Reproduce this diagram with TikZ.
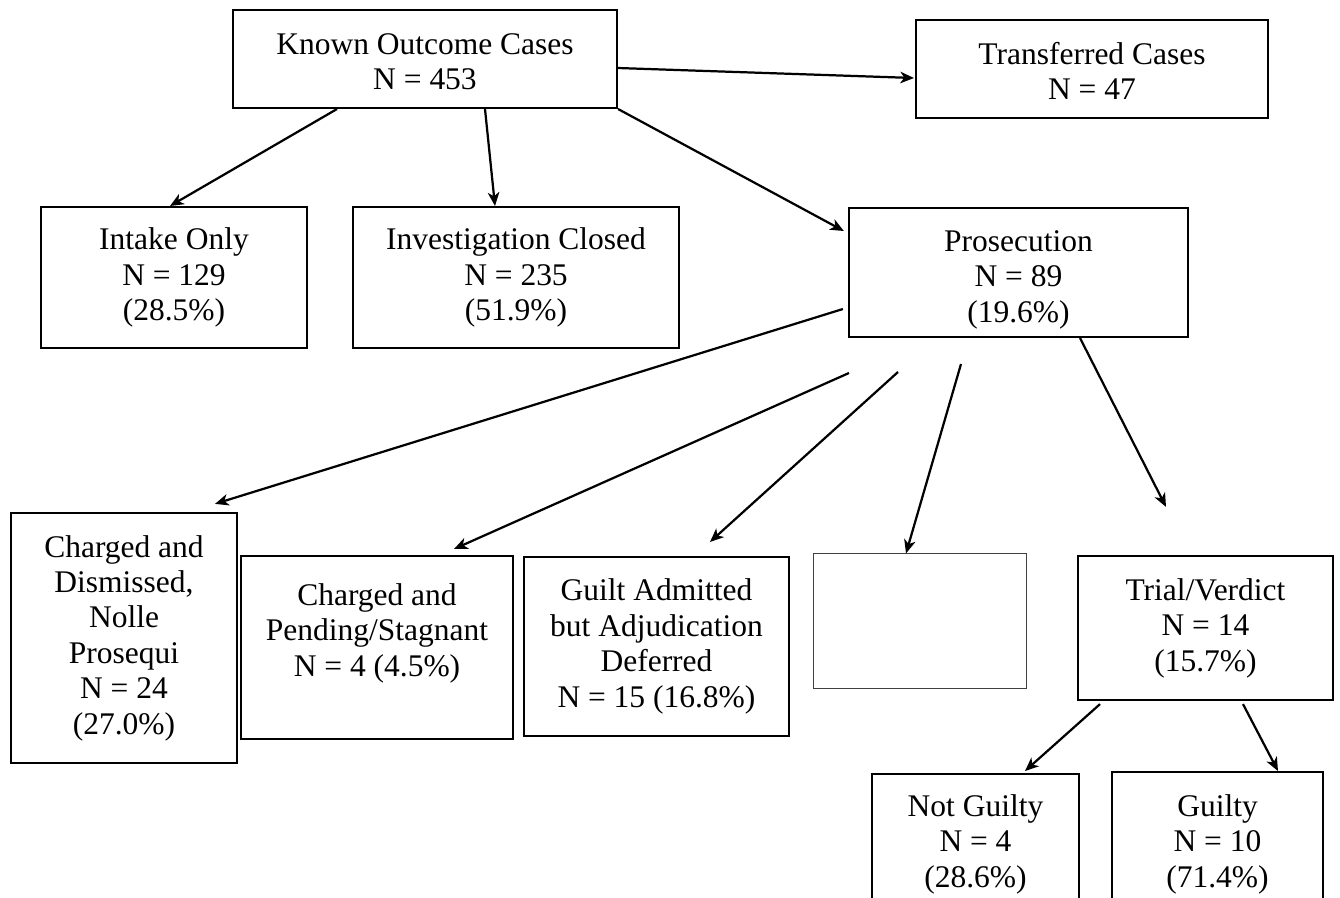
\documentclass[tikz,border=0pt]{standalone}
\usepackage{fontspec}
\setmainfont{Liberation Serif}
\usetikzlibrary{arrows.meta}
\usetikzlibrary{calc}

\begin{document}
\begin{tikzpicture}[x=0.381pt, y=-0.381pt,
	box/.style={draw=black, line width=0.8pt, inner sep=0pt, align=center, font=\fontsize{12}{13.5}\selectfont},
	blankbox/.style={draw=black!75, line width=0.4pt, inner sep=0pt},
	link/.style={line width=0.85pt, -{Stealth[length=5.2pt, width=4.4pt, inset=1.5pt]}}]

\useasboundingbox (0,0) rectangle (1340,897);
\clip (0,0) rectangle (1340,897);
\fill[white] (0,0) rectangle (1340,897);

\node[box, minimum width=146.3pt, minimum height=37.3pt] (known) at (425,59) {\rule{0pt}{10pt}Known Outcome Cases\\N = 453};
\node[box, minimum width=134.1pt, minimum height=37.3pt] (transf) at (1092,69) {\rule{0pt}{10pt}Transferred Cases\\N = 47};

\node[box, minimum width=101.3pt, minimum height=53.7pt] (intake) at (174,277.5) {Intake Only\\N = 129\\(28.5\%)};
\node[box, minimum width=124.2pt, minimum height=53.7pt] (invest) at (516,277.5) {Investigation Closed\\N = 235\\(51.9\%)};
\node[box, minimum width=129.2pt, minimum height=49.1pt] (pros) at (1018.5,272.5) {\rule{0pt}{13.3pt}Prosecution\\N = 89\\(19.6\%)};

\node[box, minimum width=86.1pt, minimum height=95.3pt] (dismiss) at (124,638) {Charged and\\Dismissed,\\Nolle\\Prosequi\\N = 24\\(27.0\%)};
\node[box, minimum width=103.6pt, minimum height=69.7pt] (pending) at (377,647.5) {Charged and\\Pending/Stagnant\\N = 4 (4.5\%)\\~};
\node[box, minimum width=101pt, minimum height=68.2pt] (deferred) at (656.5,646.5) {Guilt Admitted\\but Adjudication\\Deferred\\N = 15 (16.8\%)};
\node[blankbox, minimum width=81.5pt, minimum height=51.1pt] (blank) at (920,621) {};
\node[box, minimum width=97.2pt, minimum height=54.9pt] (trial) at (1205.5,628) {Trial/Verdict\\N = 14\\(15.7\%)};

\node[box, minimum width=78.9pt, minimum height=53.3pt] (notguilty) at (975.5,844) {Not Guilty\\N = 4\\(28.6\%)};
\node[box, minimum width=80.4pt, minimum height=54.8pt] (guilty) at (1217.5,844) {Guilty\\N = 10\\(71.4\%)};

\draw[link] ($(known.east)+(0,9)$) -- ($(transf.west)+(-1,9)$);
\draw[link] ($(known.south)+(-88,0)$) -- ($(intake.north)+(-4,0)$);
\draw[link] ($(known.south)+(60,0)$) -- ($(invest.north)+(-21,0)$);
\draw[link] (known.south east) -- ($(pros.north west)+(-4,24)$);

\draw[link] ($(pros.west)+(-5,36.5)$) -- ($(dismiss.north)+(91,-8)$);
\draw[link] ($(pros.south)+(-169.5,35)$) -- ($(pending.north)+(77,-6)$);
\draw[link] ($(pros.south)+(-120.5,34)$) -- ($(deferred.north)+(53.5,-14)$);
\draw[link] ($(pros.south)+(-57.5,26)$) -- ($(blank.north)+(-14,0)$);
\draw[link] ($(pros.south)+(61.5,0)$) -- ($(trial.north)+(-39.5,-48)$);

\draw[link] ($(trial.south)+(-105.5,3)$) -- ($(notguilty.north)+(49.5,-2)$);
\draw[link] ($(trial.south)+(37.5,3)$) -- ($(guilty.north)+(60.5,0)$);

\end{tikzpicture}
\end{document}
